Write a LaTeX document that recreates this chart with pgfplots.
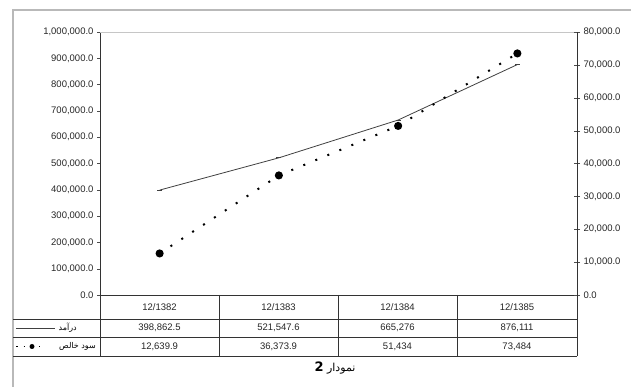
\documentclass[border=0pt]{standalone}
\usepackage{fontspec}
\setmainfont{Liberation Sans}
\newfontfamily\arabicfont[Script=Arabic]{DejaVu Sans}
\TeXXeTstate=1
\usepackage{pgfplots}
\pgfplotsset{compat=1.18}
\pgfplotstableread{
x rev profit
0 398862.5 12639.9
1 521547.6 36373.9
2 665276 51434
3 876111 73484
}\datatab
\begin{document}
\begin{tikzpicture}[x=1pt,y=1pt]
\useasboundingbox (0,0) rectangle (631,387);
\draw[gray!55, line width=1.3pt] (13,-10) rectangle (660,377);
\begin{axis}[at={(100pt,92pt)}, anchor=south west, scale only axis,
  width=477pt, height=263pt,
  xmin=-0.5, xmax=3.5, ymin=0, ymax=1000000,
  xtick=\empty,
  ytick={0,100000,200000,300000,400000,500000,600000,700000,800000,900000,1000000},
  axis y line*=left, axis x line*=bottom,
  axis line style={black!80, line width=0.6pt},
  tick align=outside, major tick length=3pt,
  tick style={black!70},
  scaled y ticks=false,
  yticklabel style={font=\fontsize{9.5}{11}\selectfont, text=black!85, /pgf/number format/.cd, fixed, fixed zerofill, precision=1, 1000 sep={,}, assume math mode=true},
  clip=false]
\draw[gray!45, line width=0.8pt] (rel axis cs:0,1) -- (rel axis cs:1,1);
\addplot[black!75, line width=0.8pt, mark=-, mark size=2.5pt] table[x=x,y=rev] {\datatab};
\end{axis}
\begin{axis}[at={(100pt,92pt)}, anchor=south west, scale only axis,
  width=477pt, height=263pt,
  xmin=-0.5, xmax=3.5, ymin=0, ymax=80000,
  xtick=\empty,
  ytick={0,10000,20000,30000,40000,50000,60000,70000,80000},
  axis y line*=right, axis x line=none,
  axis line style={black!80, line width=0.6pt},
  tick align=center, major tick length=6pt,
  tick style={black!70},
  scaled y ticks=false,
  yticklabel style={font=\fontsize{9.5}{11}\selectfont, text=black!85, /pgf/number format/.cd, fixed, fixed zerofill, precision=1, 1000 sep={,}, assume math mode=true},
  clip=false]
\addplot[black, line width=2pt, dash pattern=on 2pt off 11pt, mark=*, mark size=3pt, mark options={solid}] table[x=x,y=profit] {\datatab};
\end{axis}
% table
\begin{scope}[black!80, line width=0.6pt]
\draw (13,68) -- (577,68);
\draw (13,50) -- (577,50);
\draw (13,31) -- (577,31);
\foreach \xx in {100,219,338,457,577} \draw (\xx,92) -- (\xx,31);
\end{scope}
\begin{scope}[font=\fontsize{9.5}{11}\selectfont, text=black!85]
\node at (159.5,80) {12/1382};
\node at (278.5,80) {12/1383};
\node at (397.5,80) {12/1384};
\node at (517,80) {12/1385};
\node at (159.5,59) {398,862.5};
\node at (278.5,59) {521,547.6};
\node at (397.5,59) {665,276};
\node at (517,59) {876,111};
\node at (159.5,40.5) {12,639.9};
\node at (278.5,40.5) {36,373.9};
\node at (397.5,40.5) {51,434};
\node at (517,40.5) {73,484};
\end{scope}
% legend cells
\draw[black!75, line width=0.8pt] (16,59) -- (55,59);
\node[anchor=east, font=\arabicfont\fontsize{8}{9}\selectfont, inner sep=1pt] at (78,59.5) {\beginR درآمد\endR};
\draw[black, line width=1.6pt, dash pattern=on 1.6pt off 6pt] (16,40.5) -- (46,40.5);
\fill[black] (32,40.5) circle (2.5pt);
\node[anchor=east, font=\arabicfont\fontsize{8}{9}\selectfont, inner sep=1pt] at (97,41) {\beginR سود خالص\endR};
% caption
\node[font=\arabicfont\fontsize{11}{13}\selectfont] at (335,19) {\beginR نمودار \textbf{\fontsize{13}{13}\selectfont 2}\endR};
\end{tikzpicture}
\end{document}
